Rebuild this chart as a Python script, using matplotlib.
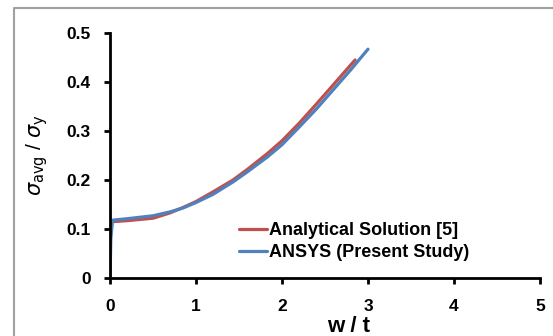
#!/usr/bin/env python3

from matplotlib import pyplot as plt
from matplotlib.lines import Line2D

# ANSYS (present study)
ansys_x = [0.0, 0.01, 0.03, 0.2, 0.5, 0.7, 0.85, 1.0, 1.2, 1.43, 1.6, 1.83, 2.0, 2.2, 2.4, 2.6, 2.8, 3.0]
ansys_y = [0.0, 0.08, 0.118, 0.121, 0.127, 0.135, 0.143, 0.154, 0.171, 0.196, 0.217, 0.247, 0.272, 0.308, 0.345, 0.385, 0.425, 0.467]

# analytical solution [5]
anal_x = [0.03, 0.2, 0.5, 0.7, 0.85, 1.0, 1.2, 1.43, 1.6, 1.83, 2.0, 2.2, 2.4, 2.6, 2.75, 2.85]
anal_y = [0.115, 0.117, 0.122, 0.133, 0.144, 0.156, 0.176, 0.2, 0.222, 0.254, 0.28, 0.316, 0.355, 0.395, 0.425, 0.445]


def main():
    plt.rcParams['font.family'] = ['Liberation Sans', 'DejaVu Sans']
    fig = plt.figure(figsize=(5.53, 3.36), dpi=100)

    # grey chart-area frame (top and left edges visible)
    W, H = 553, 336
    fig.add_artist(Line2D([13.5 / W, 13.5 / W, 1.0], [0.0, (H - 7.5) / H, (H - 7.5) / H],
                          transform=fig.transFigure, color='#a0a0a0', linewidth=1.5))

    ax = fig.add_axes([110 / W, 58 / H, 430 / W, 245 / H])

    ax.plot(anal_x, anal_y, color='#c0504d', linewidth=2.3,
            label='Analytical Solution [5]', solid_capstyle='round')
    ax.plot(ansys_x, ansys_y, color='#4f81bd', linewidth=2.3,
            label='ANSYS (Present Study)', solid_capstyle='round')

    ax.set_xlim(0, 5)
    ax.set_ylim(0, 0.5)
    ax.set_xticks([0, 1, 2, 3, 4, 5])
    ax.set_yticks([0, 0.1, 0.2, 0.3, 0.4, 0.5])
    ax.set_yticklabels(['0', '0.1', '0.2', '0.3', '0.4', '0.5'])
    for s in ['top', 'right']:
        ax.spines[s].set_visible(False)
    for s in ['left', 'bottom']:
        ax.spines[s].set_linewidth(2)
    ax.tick_params(width=2, length=4, labelsize=12.5)
    ax.tick_params(axis='y', pad=10)
    ax.tick_params(axis='x', pad=11)
    for lab in ax.get_xticklabels() + ax.get_yticklabels():
        lab.set_fontweight('bold')

    ax.set_xlabel('w / t', fontsize=16, fontweight='bold')
    ax.xaxis.set_label_coords(0.555, -0.155)
    ax.set_ylabel(r'$\sigma_{\mathrm{avg}}$ / $\sigma_{\mathrm{y}}$', fontsize=15)
    ax.yaxis.set_label_coords(-0.14, 0.5)

    ax.legend(loc='center left', bbox_to_anchor=(0.262, 0.148), frameon=False,
              handlelength=1.55, handletextpad=0.1, labelspacing=0.25,
              prop={'weight': 'bold', 'size': 13})

    fig.savefig('out.png', dpi=100)


if __name__ == '__main__':
    main()
